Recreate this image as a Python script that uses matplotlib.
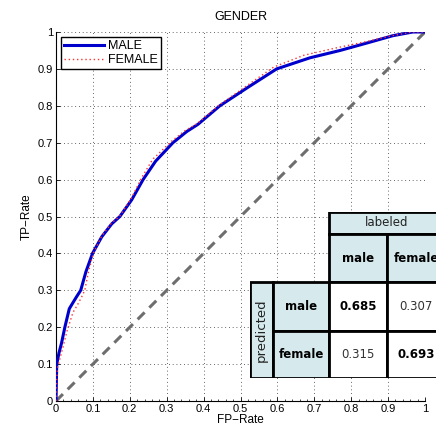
import matplotlib

matplotlib.use("Agg")
from matplotlib import pyplot as plt
from matplotlib.patches import Rectangle
from matplotlib.ticker import MultipleLocator

# ROC points read per class
MALE_FPR = [0.0, 0.001, 0.002, 0.008, 0.015, 0.024, 0.036, 0.045, 0.056, 0.067,
            0.081, 0.099, 0.124, 0.151, 0.173, 0.205, 0.236, 0.270, 0.317,
            0.354, 0.385, 0.444, 0.520, 0.598, 0.688, 0.770, 0.842, 0.913,
            0.967, 1.0]
MALE_TPR = [0.0, 0.05, 0.10, 0.13, 0.157, 0.20, 0.25, 0.265, 0.283, 0.30,
            0.35, 0.40, 0.445, 0.48, 0.50, 0.545, 0.60, 0.65, 0.70,
            0.73, 0.75, 0.80, 0.85, 0.90, 0.93, 0.95, 0.97, 0.99,
            1.0, 1.0]
FEMALE_FPR = [0.0, 0.001, 0.004, 0.012, 0.020, 0.030, 0.046, 0.058, 0.070, 0.078,
              0.088, 0.101, 0.124, 0.150, 0.172, 0.203, 0.232, 0.262, 0.312,
              0.350, 0.383, 0.442, 0.515, 0.590, 0.672, 0.755, 0.836, 0.910,
              0.967, 1.0]
FEMALE_TPR = [0.0, 0.04, 0.09, 0.12, 0.15, 0.19, 0.24, 0.26, 0.283, 0.30,
              0.35, 0.40, 0.447, 0.482, 0.50, 0.547, 0.605, 0.655, 0.703,
              0.733, 0.752, 0.802, 0.853, 0.905, 0.937, 0.956, 0.973, 0.99,
              1.0, 1.0]

TICKS = [0.0, 0.1, 0.2, 0.3, 0.4, 0.5, 0.6, 0.7, 0.8, 0.9, 1.0]
TICK_LABELS = ["0", "0.1", "0.2", "0.3", "0.4", "0.5", "0.6", "0.7",
               "0.8", "0.9", "1"]

# Confusion matrix (rows: predicted, columns: labeled)
CLASS_NAMES = ["male", "female"]
CONFUSION = [[0.685, 0.307],
             [0.315, 0.693]]

TICK_FONT = "Liberation Sans"
HEADER_COLOR = "#d6eaed"


def draw_cell(ax, x, y, w, h, text="", fill="white", **text_kw):
    """Draw one bordered table cell with centered text"""
    ax.add_patch(Rectangle((x, y), w, h, facecolor=fill, edgecolor="black",
                           linewidth=2.0, zorder=1))
    if text:
        ax.text(x + w / 2, y + h / 2, text, ha="center", va="center",
                family="DejaVu Sans", zorder=2, **text_kw)


def draw_confusion_table(fig):
    """Confusion table with merged header cells, in pixel-sized units"""
    col_w = [23, 56, 58, 58]
    row_h = [47, 49, 48, 22]  # bottom to top
    fw, fh = 436, 433
    left, bottom = 250, 433 - 378
    tab = fig.add_axes([left / fw, bottom / fh, sum(col_w) / fw, sum(row_h) / fh])
    tab.set_xlim(0, sum(col_w))
    tab.set_ylim(0, sum(row_h))
    tab.axis("off")

    xs = [0, col_w[0], col_w[0] + col_w[1], col_w[0] + col_w[1] + col_w[2]]
    ys = [0, row_h[0], row_h[0] + row_h[1], row_h[0] + row_h[1] + row_h[2]]

    # header: "labeled" spans both class columns
    draw_cell(tab, xs[2], ys[3], col_w[2] + col_w[3], row_h[3], "labeled",
              HEADER_COLOR, fontsize=8.5, color="#222222")
    for j, name in enumerate(CLASS_NAMES):
        draw_cell(tab, xs[2 + j], ys[2], col_w[2 + j], row_h[2], name,
                  HEADER_COLOR, fontsize=8.5, fontweight="bold")

    # "predicted" spans both class rows
    draw_cell(tab, xs[0], ys[0], col_w[0], row_h[0] + row_h[1], "",
              HEADER_COLOR)
    tab.text(col_w[0] / 2, (row_h[0] + row_h[1]) / 2, "predicted",
             rotation=90, ha="center", va="center", fontsize=9.5,
             family="DejaVu Sans", color="#222222", zorder=2)

    for i, name in enumerate(CLASS_NAMES):
        y = ys[1 - i]
        h = row_h[1 - i]
        draw_cell(tab, xs[1], y, col_w[1], h, name, HEADER_COLOR,
                  fontsize=8.5, fontweight="bold")
        for j in range(len(CLASS_NAMES)):
            weight = "bold" if i == j else "normal"
            draw_cell(tab, xs[2 + j], y, col_w[2 + j], h,
                      f"{CONFUSION[i][j]:.3f}", "white", fontsize=8.5,
                      fontweight=weight,
                      color="black" if i == j else "#333333")


def main():
    fig = plt.figure(figsize=(4.36, 4.33), dpi=100)
    ax = fig.add_axes([56 / 436, 32 / 433, 369 / 436, 369 / 433])

    ax.plot([0, 1], [0, 1], color="#6e6e6e", linestyle=(0, (3.2, 2.2)),
            linewidth=2.2, zorder=2)
    ax.plot(MALE_FPR, MALE_TPR, color="#0000cc", linewidth=2.2,
            label="MALE", zorder=3)
    ax.plot(FEMALE_FPR, FEMALE_TPR, color="#ff3030", linewidth=1.0,
            linestyle=(0, (1, 2)), label="FEMALE", zorder=4)

    ax.set_xlim(0, 1)
    ax.set_ylim(0, 1)
    ax.set_xticks(TICKS)
    ax.set_yticks(TICKS)
    ax.xaxis.set_minor_locator(MultipleLocator(0.02))
    ax.set_xticklabels(TICK_LABELS, fontsize=8, family=TICK_FONT)
    ax.set_yticklabels(TICK_LABELS, fontsize=8, family=TICK_FONT)
    ax.tick_params(which="major", direction="in", length=3, width=0.6,
                   pad=2)
    ax.tick_params(axis="x", which="minor", direction="in", length=1.5,
                   width=0.5)
    ax.grid(True, color="#333333", linestyle=(0, (1, 3.5)), linewidth=0.6)
    ax.spines["top"].set_visible(False)
    ax.spines["right"].set_visible(False)
    for side in ("left", "bottom"):
        ax.spines[side].set_linewidth(0.8)

    ax.set_title("GENDER", fontsize=9, family=TICK_FONT, pad=9)
    ax.set_xlabel("FP\u2212Rate", fontsize=8.5, family=TICK_FONT, labelpad=0)
    ax.set_ylabel("TP\u2212Rate", fontsize=8.5, family=TICK_FONT, labelpad=4)

    leg = ax.legend(loc="upper left", fancybox=False, framealpha=1,
                    borderaxespad=0.4, handlelength=3.2, handletextpad=0.3,
                    borderpad=0.25, labelspacing=0.15,
                    prop={"family": TICK_FONT, "size": 9})
    leg.get_frame().set_edgecolor("black")
    leg.get_frame().set_linewidth(1.0)

    draw_confusion_table(fig)
    fig.savefig("out.png", dpi=100)
    plt.close(fig)


if __name__ == "__main__":
    main()
